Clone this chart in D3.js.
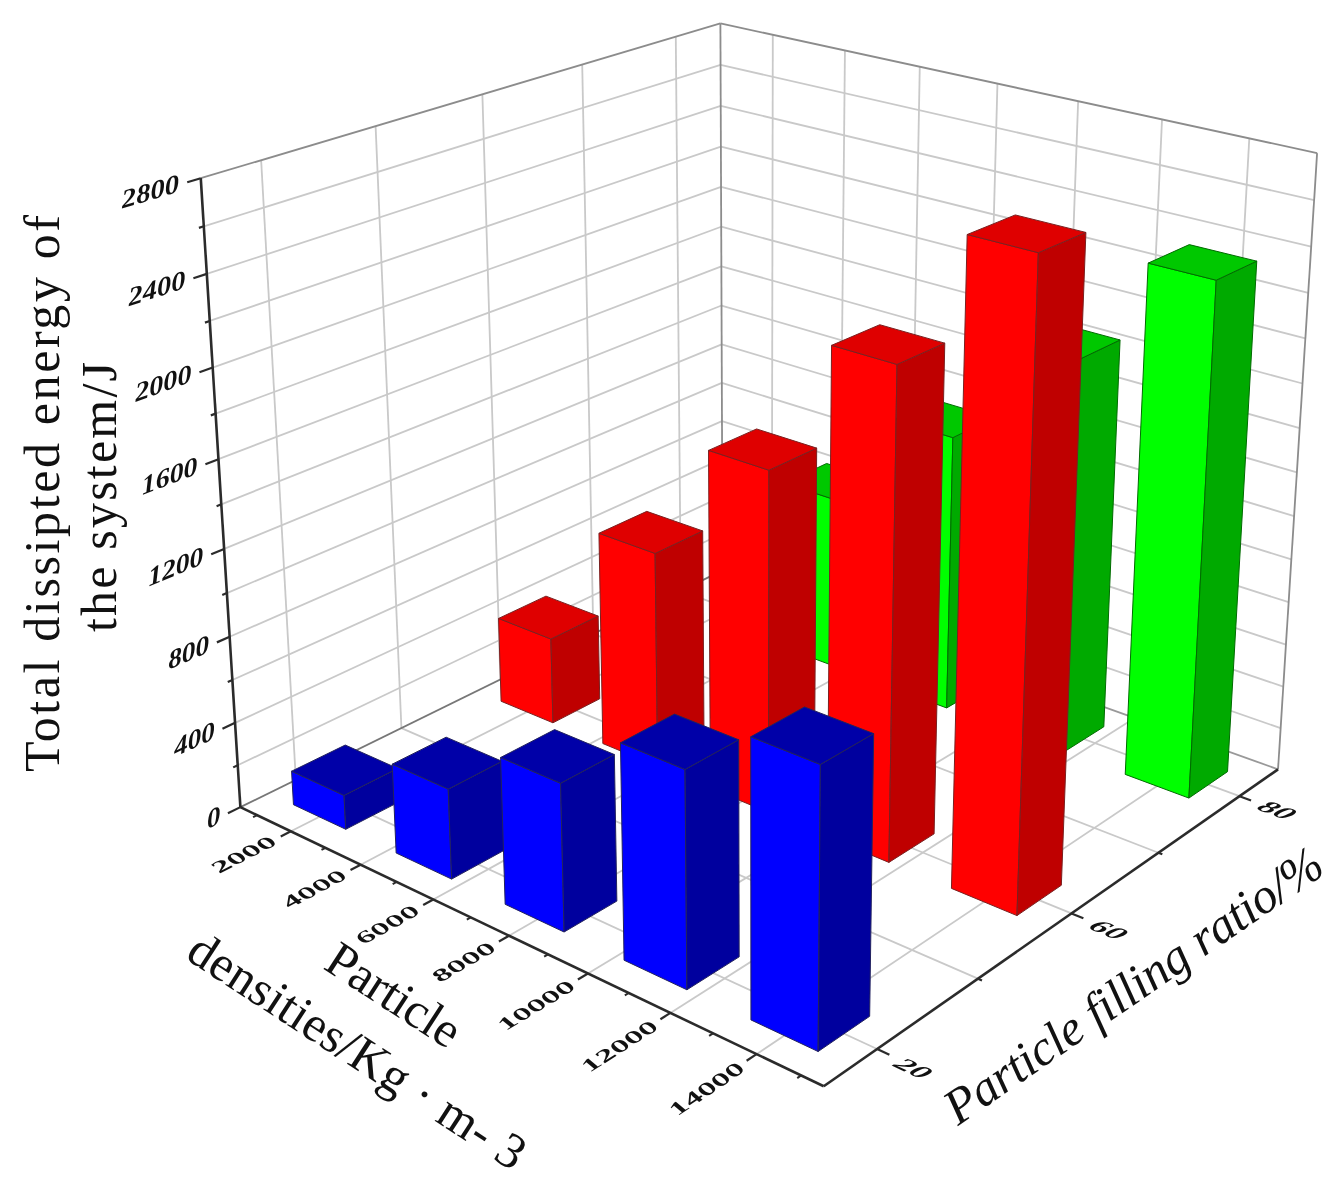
<!DOCTYPE html>
<html lang="en">
<head>
    <meta charset="utf-8">
    <title>Total dissipated energy 3D bars</title>
    <style>
        html, body { margin: 0; background: #fff; }
        svg { display: block; filter: blur(0.6px); }
    </style>
</head>
<body>
<script src="https://d3js.org/d3.v7.min.js"></script>
<script>
    // values
    var barSlots = [1, 2, 3, 4, 5];
    var blueValues = [160, 412, 660, 945, 1190];
    var redValues = [415, 1015, 1570, 2190, 2790];
    var greenValues = [null, 840, 1320, 1845, 2345];
    var energyTicks = d3.range(0, 2801, 200);
    var energyLabels = [0, 400, 800, 1200, 1600, 2000, 2400, 2800];
    var densityLabels = ["2000", "4000", "6000", "8000", "10000", "12000", "14000"];
    var fillTicks = [20, 40, 60, 70, 80];
    var fillLabels = ["20", "", "60", "", "80"];

    var width = 1335, height = 1195;
    var serif = "'Liberation Serif'";

    var svg = d3.select("body").append("svg")
        .attr("width", width)
        .attr("height", height);

    // cube corners on the page: x (density), y (filling), z (energy), px, py
    var anchors = [
        [0, 0, 0, 240, 804], [1, 0, 0, 825, 1088], [1, 1, 0, 1278, 768], [0, 1, 0, 722, 573],
        [0, 0, 1, 200, 180], [0, 1, 1, 722, 22], [1, 1, 1, 1316, 153]
    ];

    function solveCamera(pts) {
        var A = [], b = [];
        pts.forEach(function (p) {
            A.push([p[0], p[1], p[2], 1, 0, 0, 0, 0, -p[3] * p[0], -p[3] * p[1], -p[3] * p[2]]);
            b.push(p[3]);
            A.push([0, 0, 0, 0, p[0], p[1], p[2], 1, -p[4] * p[0], -p[4] * p[1], -p[4] * p[2]]);
            b.push(p[4]);
        });
        var n = 11, M = [];
        for (var i = 0; i < n; i++) {
            M.push(d3.range(n + 1).map(function (j) {
                return d3.sum(A, function (row, k) { return row[i] * (j < n ? row[j] : b[k]); });
            }));
        }
        for (i = 0; i < n; i++) {
            var piv = i;
            for (var r = i + 1; r < n; r++) if (Math.abs(M[r][i]) > Math.abs(M[piv][i])) piv = r;
            var tmp = M[i]; M[i] = M[piv]; M[piv] = tmp;
            for (r = 0; r < n; r++) {
                if (r === i) continue;
                var f = M[r][i] / M[i][i];
                for (var c = i; c <= n; c++) M[r][c] -= f * M[i][c];
            }
        }
        return M.map(function (row, k) { return row[n] / row[k]; });
    }
    var cam = solveCamera(anchors);

    function project(x, y, z) {
        var w = cam[8] * x + cam[9] * y + cam[10] * z + 1;
        return [(cam[0] * x + cam[1] * y + cam[2] * z + cam[3]) / w,
            (cam[4] * x + cam[5] * y + cam[6] * z + cam[7]) / w];
    }

    var xBar = d3.scaleLinear().domain([1, 3, 5]).range([0.1, 0.495, 0.9]);
    var xTick = d3.scalePoint().domain(densityLabels).range([0.1, 0.9]);
    var yTick = d3.scaleLinear().domain([0, 4]).range([0.1, 0.9]);
    var zScale = d3.scaleLinear().domain([0, 2800]).range([0, 1]);

    var line = d3.line();
    function seg(g, a, b, color, w) {
        g.append("path")
            .attr("d", line([project.apply(null, a), project.apply(null, b)]))
            .attr("fill", "none")
            .attr("stroke", color)
            .attr("stroke-width", w);
    }

    // walls and floor grid
    var grid = svg.append("g");
    var gridColor = "#c9c9c9", edgeColor = "#8c8c8c";
    energyTicks.slice(1, -1).forEach(function (v) {
        seg(grid, [0, 0, zScale(v)], [0, 1, zScale(v)], gridColor, 1.8);
        seg(grid, [0, 1, zScale(v)], [1, 1, zScale(v)], gridColor, 1.8);
    });
    fillTicks.forEach(function (v, i) {
        seg(grid, [0, yTick(i), 0], [0, yTick(i), 1], gridColor, 1.8);
        seg(grid, [0, yTick(i), 0], [1, yTick(i), 0], gridColor, 1.8);
    });
    densityLabels.forEach(function (v) {
        seg(grid, [xTick(v), 1, 0], [xTick(v), 1, 1], gridColor, 1.8);
        seg(grid, [xTick(v), 0, 0], [xTick(v), 1, 0], gridColor, 1.8);
    });
    seg(grid, [0, 0, 1], [0, 1, 1], edgeColor, 1.8);
    seg(grid, [0, 1, 1], [1, 1, 1], edgeColor, 1.8);
    seg(grid, [0, 1, 0], [0, 1, 1], edgeColor, 1.8);
    seg(grid, [1, 1, 0], [1, 1, 1], edgeColor, 1.8);
    seg(grid, [0, 0, 0], [0, 1, 0], "#777", 1.8);
    seg(grid, [0, 1, 0], [1, 1, 0], "#999", 1.8);

    // bars, back row first
    var barW = 0.102, barD = 0.098;
    var rows = [
        {values: greenValues, tick: 4, face: "#00ff00", side: "#00aa00", top: "#00c800", line: "#006b00"},
        {values: redValues, tick: 2, face: "#ff0000", side: "#bf0000", top: "#df0000", line: "#7a2020"},
        {values: blueValues, tick: 0, face: "#0000ff", side: "#00009e", top: "#0000a8", line: "#22225e"}
    ];
    rows.forEach(function (row) {
        var barG = svg.append("g");
        row.values.forEach(function (v, i) {
            if (v === null) return;
            var cx = xBar(barSlots[i]), cy = yTick(row.tick), h = zScale(v);
            var x0 = cx - barW / 2, x1 = cx + barW / 2, y0 = cy - barD / 2, y1 = cy + barD / 2;
            var faces = [
                [[x0, y0, 0], [x1, y0, 0], [x1, y0, h], [x0, y0, h]],
                [[x1, y0, 0], [x1, y1, 0], [x1, y1, h], [x1, y0, h]],
                [[x0, y0, h], [x1, y0, h], [x1, y1, h], [x0, y1, h]]
            ];
            [row.face, row.side, row.top].forEach(function (color, k) {
                barG.append("path")
                    .attr("d", line(faces[k].map(function (p) { return project.apply(null, p); })) + "Z")
                    .attr("fill", color)
                    .attr("stroke", row.line)
                    .attr("stroke-width", 1)
                    .attr("stroke-linejoin", "round");
            });
        });
    });

    // axes and ticks
    var axes = svg.append("g");
    var axisColor = "#2b2b2b";
    seg(axes, [0, 0, 0], [0, 0, 1], axisColor, 2.6);
    seg(axes, [0, 0, 0], [1, 0, 0], axisColor, 2.6);
    seg(axes, [1, 0, 0], [1, 1, 0], axisColor, 2.6);
    energyTicks.forEach(function (v) {
        var major = energyLabels.indexOf(v) >= 0;
        seg(axes, [0, 0, zScale(v)], [0, major ? -0.022 : -0.008, zScale(v)], axisColor, 2.2);
    });
    densityLabels.forEach(function (v) {
        seg(axes, [xTick(v), 0, 0], [xTick(v), -0.018, 0], axisColor, 2.2);
        seg(axes, [xTick(v) - 1 / 15, 0, 0], [xTick(v) - 1 / 15, -0.007, 0], axisColor, 2);
    });
    seg(axes, [14.5 / 15, 0, 0], [14.5 / 15, -0.007, 0], axisColor, 2);
    fillTicks.forEach(function (v, i) {
        var major = fillLabels[i] !== "";
        seg(axes, [1, yTick(i), 0], [major ? 1.018 : 1.006, yTick(i), 0], axisColor, 2.2);
    });

    // tick labels lie in the chart planes, so take their basis from the camera
    function planeText(pos, uDir, vDir, su, sv, size, anchor, str) {
        var o = project.apply(null, pos);
        function basis(d) {
            var q = project(pos[0] + d[0] * 0.01, pos[1] + d[1] * 0.01, pos[2] + d[2] * 0.01);
            var dx = q[0] - o[0], dy = q[1] - o[1], n = Math.sqrt(dx * dx + dy * dy);
            return [dx / n, dy / n];
        }
        var u = basis(uDir), v = basis(vDir);
        svg.append("text")
            .attr("transform", "matrix(" + [u[0] * su, u[1] * su, v[0] * sv, v[1] * sv, o[0], o[1]].join(",") + ")")
            .attr("text-anchor", anchor)
            .attr("font-size", size)
            .attr("font-weight", "bold")
            .attr("font-style", "italic")
            .attr("fill", "#111")
            .style("font-family", serif)
            .text(str);
    }
    energyLabels.forEach(function (v) {
        planeText([0, -0.035, zScale(v) - 0.01], [0, 1, 0], [0, 0, -1], 1.15, 1, 26, "end", v);
    });
    densityLabels.forEach(function (v) {
        planeText([xTick(v) + 0.012, -0.03, 0], [0, 1, 0], [1, 0, 0], 1.45, 1, 23, "end", v);
    });
    fillLabels.forEach(function (v, i) {
        if (v !== "") planeText([1.034, yTick(i) - 0.016, 0], [1, 0, 0], [0, -1, 0], 1.45, 1, 23, "start", v);
    });

    // axis titles
    function title(x, y, angle, size, len, str, italic) {
        svg.append("text")
            .attr("transform", "translate(" + x + "," + y + ") rotate(" + angle + ")")
            .attr("font-size", size)
            .attr("font-style", italic ? "italic" : "normal")
            .attr("fill", "#111")
            .attr("textLength", len)
            .attr("lengthAdjust", "spacing")
            .style("font-family", serif)
            .text(str);
    }
    title(59, 772, -90, 50, 557, "Total dissipted energy of");
    title(116, 632, -90, 50, 270, "the system/J");
    title(322, 968, 33, 50, 150, "Particle");
    title(184, 958, 33, 50, 392, "densities/Kg · m- 3");
    title(958, 1126, -34.5, 50, 448, "Particle filling ratio/%", true);
</script>
</body>
</html>
